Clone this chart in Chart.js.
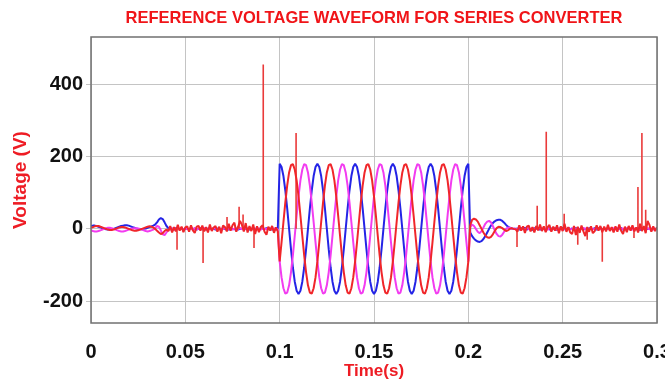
<!DOCTYPE html>
<html><head><meta charset="utf-8">
<script src="https://cdn.jsdelivr.net/npm/chart.js@4.4.1/dist/chart.umd.min.js"></script>
<style>html,body{margin:0;padding:0;background:#fff;overflow:hidden}</style>
</head><body>
<canvas id="c" width="665" height="383" style="width:665px;height:383px;display:block"></canvas>
<script>
// ---------- text ----------
const titleText = "REFERENCE VOLTAGE WAVEFORM FOR SERIES CONVERTER";
const xTitle = "Time(s)";
const yTitle = "Voltage (V)";
const xTicks = [0, 0.05, 0.1, 0.15, 0.2, 0.25, 0.3];
const xTickLabels = ["0", "0.05", "0.1", "0.15", "0.2", "0.25", "0.3"];
const yTicks = [-200, 0, 200, 400];

// ---------- sampling (1 ms) ----------
const sampleStep = 0.001;
const tBefore = 0.0;   // first sample of "before" segment
const tSine = 0.1;     // first sample of compensation segment
const tAfter = 0.201;  // first sample of "after" segment

// ---------- blue phase ----------
const blueBefore = [8,9,9,8,6,4,2,0,-1,-2, -2,-1,0,2,4,6,8,9,10,10, 9,7,5,3,1,0,-1,-1,0,1, 3,5,7,9,12,18,26,30,27,18, 8,
  2,-1,1,-2,2,0,-1,2,-2,1, 0,-1,2,-1,1,-2,0,2,-1,1, -2,1,0,-1,2,-2,1,0,-1,2, -1,1,-2,2,0,-1,1,-2,1,0, 2,-1,1,-2,0,1,-1,2,-2,1, 0,-1,2,-1,1,-2,0,1,-1];
const blueSine = [180,171,146,106,56,0,-56,-106,-146,-171,-180,-171,-146,-106,-56,0,56,106,146,171,
  180,171,146,106,56,0,-56,-106,-146,-171,-180,-171,-146,-106,-56,0,56,106,146,171,
  180,171,146,106,56,0,-56,-106,-146,-171,-180,-171,-146,-106,-56,0,56,106,146,171,
  180,171,146,106,56,0,-56,-106,-146,-171,-180,-171,-146,-106,-56,0,56,106,146,171,
  180,171,146,106,56,0,-56,-106,-146,-171,-180,-171,-146,-106,-56,0,56,106,146,171, 180];
const blueAfter = [-10,-20,-27,-32,-35,-36,-34,-28,-20,-10, 0,9,16,21,24,25,25,22,17,11, 6,3,1,0,0,
  1,-2,2,-1,3,-2,1,0,-3,2, -1,2,-2,1,0,-1,3,-2,1,-1, 2,-3,1,0,2,-1,-2,3,-1,1, -2,2,0,-1,3,-2,1,-3,2,0,
  -1,2,-2,1,3,-1,0,-2,2,-1, 1,-3,2,0,-1,2,-2,1,-1,3, -2,1,0,-1,2,-3,1,2,-1,0, 1,-2,2,-1,0];

// ---------- red phase ----------
const redBefore = [3,5,7,8,8,6,4,2,0,-2, -3,-3,-2,0,2,4,5,5,4,2, 0,-2,-4,-5,-5,-4,-2,0,2,4, 6,7,6,4,0,-5,-10,-14,-12,-6, -2,
  -6,8,-10,5,-7,11,-5,6,-9,4, 7,-8,10,-4,-11,6,8,-5,9,-7, 5,-10,12,-6,4,8,-8,6,-12,9, 5,-7,14,-5,10,17,-8,6,22,11, -7,16,-10,8,-6,12,-14,7,-9,5, 10,-8,-16,6,-5,8,-11,4,-7];
const redSine = [-90,-37,19,73,120,156,176,179,164,134,90,37,-19,-73,-120,-156,-176,-179,-164,-134,
  -90,-37,19,73,120,156,176,179,164,134,90,37,-19,-73,-120,-156,-176,-179,-164,-134,
  -90,-37,19,73,120,156,176,179,164,134,90,37,-19,-73,-120,-156,-176,-179,-164,-134,
  -90,-37,19,73,120,156,176,179,164,134,90,37,-19,-73,-120,-156,-176,-179,-164,-134,
  -90,-37,19,73,120,156,176,179,164,134,90,37,-19,-73,-120,-156,-176,-179,-164,-134, -90];
const redAfter = [10,25,28,26,20,10,0,-10,-18,-23, -25,-22,-15,-6,2,6,5,2,-2,-6, -4,0,2,0,-1,
  -8,10,-5,7,-11,6,9,-7,5,-10, 8,-4,12,-6,7,-9,5,11,-8,6, -5,10,-12,7,-6,14,-8,5,-10,-14, 8,-17,6,-11,9,-7,-20,5,-8,7,
  -12,-6,10,-5,8,-9,6,-7,11,-6, 5,-10,7,-8,12,-5,-14,6,-9,8, -5,10,-7,4,-10,14,-6,8,-12,22, 11,-8,7,-6,5];

// ---------- magenta phase ----------
const magentaBefore = [-4,-6,-7,-7,-6,-4,-2,0,2,3, 3,2,0,-2,-4,-6,-7,-7,-6,-4, -2,0,1,2,2,1,0,-2,-4,-6, -7,-6,-4,-2,2,8,6,-4,-15,-17, -10,
  -3,-1,1,-2,1,0,-1,1,-2,2, -1,0,1,-2,2,-1,0,1,-1,2, 0,-2,1,-1,2,0,-1,1,-2,1, 1,-1,0,2,-2,1,-1,0,2,-1, 0,1,-2,1,-1,2,0,-1,1,-2, 1,0,-1,2,-1,0,1,-2,0];
const magentaSine = [-90,-134,-164,-179,-176,-156,-120,-73,-19,37,90,134,164,179,176,156,120,73,19,-37,
  -90,-134,-164,-179,-176,-156,-120,-73,-19,37,90,134,164,179,176,156,120,73,19,-37,
  -90,-134,-164,-179,-176,-156,-120,-73,-19,37,90,134,164,179,176,156,120,73,19,-37,
  -90,-134,-164,-179,-176,-156,-120,-73,-19,37,90,134,164,179,176,156,120,73,19,-37,
  -90,-134,-164,-179,-176,-156,-120,-73,-19,37,90,134,164,179,176,156,120,73,19,-37, -90];
const magentaAfter = [5,12,8,0,-8,-12,-6,4,14,20, 22,18,8,-4,-14,-20,-21,-16,-8,0, 4,3,1,0,0,
  -1,2,-1,1,-2,3,-1,0,2,-2, 1,-1,3,-2,0,1,-2,2,-1,1, -2,1,0,2,-3,1,-1,2,0,-1, 2,-1,1,-2,0,3,-1,1,-2,2,
  0,-1,2,-2,1,-3,2,0,1,-1, -1,2,-2,3,0,-1,1,-2,2,0, 1,-2,1,0,-3,2,-1,1,0,2, -1,1,-2,0,1];

// ---------- transient spikes on the red trace ----------
const spikeTimes  = [0.0456, 0.0594, 0.0721, 0.0785, 0.0806, 0.0864, 0.0913, 0.1087, 0.2258, 0.2365, 0.2413, 0.2508, 0.2580, 0.2630, 0.2710, 0.2878, 0.2899, 0.2920, 0.2940];
const spikeValues = [-58, -94, 33, 61, 40, -53, 454, 265, -50, 64, 268, 42, -44, -30, -91, -25, 116, 265, 53];

// ---------- build point lists ----------
function segment(t0, values) {
  return values.map((v, k) => ({ x: +(t0 + k * sampleStep).toFixed(4), y: v }));
}
function trace(before, sine, after) {
  return [].concat(segment(tBefore, before), segment(tSine, sine), segment(tAfter, after));
}
const spikePts = [];
spikeTimes.forEach((t, i) => {
  spikePts.push({ x: t, y: 0 }, { x: t, y: spikeValues[i] }, { x: t, y: 0 }, { x: t, y: null });
});

const FONT = "'Liberation Sans', Arial, Helvetica, sans-serif";

// frame around the plot box, and title centred over the plot box
const framePlugin = {
  id: 'frame',
  afterLayout(chart) {
    const t = chart.titleBlock, a = chart.chartArea;
    if (t && a) { t.left = a.left; t.right = a.right; t.width = a.right - a.left; }
  },
  afterDatasetsDraw(chart) {
    const { ctx, chartArea: a } = chart;
    ctx.save();
    ctx.strokeStyle = '#707070';
    ctx.lineWidth = 1.5;
    ctx.strokeRect(a.left, a.top, a.right - a.left, a.bottom - a.top);
    ctx.restore();
  }
};

new Chart(document.getElementById('c'), {
  type: 'line',
  data: {
    datasets: [
      { label: 'Red', data: trace(redBefore, redSine, redAfter), borderColor: '#f0262a', borderWidth: 2 },
      { label: 'Red spikes', data: spikePts, borderColor: '#ea3a3a', borderWidth: 1.6, spanGaps: false },
      { label: 'Magenta', data: trace(magentaBefore, magentaSine, magentaAfter), borderColor: '#f23cf0', borderWidth: 2 },
      { label: 'Blue', data: trace(blueBefore, blueSine, blueAfter), borderColor: '#2424e6', borderWidth: 2 }
    ]
  },
  options: {
    responsive: false,
    animation: false,
    devicePixelRatio: 1,
    elements: { point: { radius: 0 }, line: { tension: 0, borderJoinStyle: 'bevel', fill: false } },
    layout: { padding: { left: 0, right: 8, top: 0, bottom: 0 } },
    plugins: {
      legend: { display: false },
      tooltip: { enabled: false },
      title: {
        display: true, text: titleText, color: '#f01418',
        font: { family: FONT, weight: 'bold', size: 16.5, lineHeight: 1.2 },
        padding: { top: 9, bottom: 8.2 }
      }
    },
    scales: {
      x: {
        type: 'linear', min: 0, max: 0.3,
        afterBuildTicks: s => { s.ticks = xTicks.map(v => ({ value: v })); },
        afterFit: s => { s.height = 60; s.paddingLeft = 0; s.paddingRight = 0; },
        ticks: { callback: (v, i) => xTickLabels[i], color: '#111', padding: 17, maxRotation: 0, autoSkip: false,
                 font: { family: FONT, weight: 'bold', size: 20 } },
        grid: { color: '#c4c4c4', lineWidth: 1, drawTicks: false },
        border: { display: false },
        title: { display: true, text: xTitle, color: '#ee1c24', padding: { top: 0, bottom: 1 },
                 font: { family: FONT, weight: 'bold', size: 17, lineHeight: 1.2 } }
      },
      y: {
        type: 'linear', min: -260, max: 530,
        afterBuildTicks: s => { s.ticks = yTicks.map(v => ({ value: v })); },
        afterFit: s => { s.width = 91; s.paddingTop = 0; s.paddingBottom = 0; },
        ticks: { callback: v => String(v), color: '#111', padding: 3,
                 font: { family: FONT, weight: 'bold', size: 20 } },
        grid: { color: '#c4c4c4', lineWidth: 1, drawTicks: true, tickLength: 5 },
        border: { display: false },
        title: { display: true, text: yTitle, color: '#ee1c24', padding: { top: 9, bottom: 0 },
                 font: { family: FONT, weight: 'bold', size: 19, lineHeight: 1.2 } }
      }
    }
  },
  plugins: [framePlugin]
});
</script>
</body></html>
